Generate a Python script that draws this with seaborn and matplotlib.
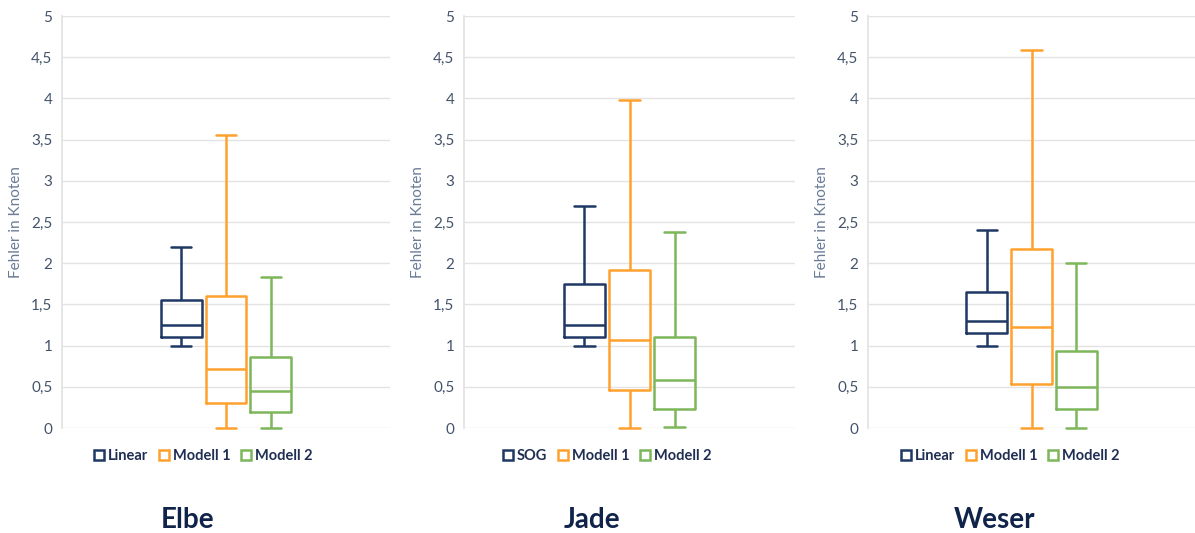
import pandas as pd
import matplotlib.pyplot as plt
import seaborn as sns
from matplotlib.lines import Line2D
from matplotlib.ticker import FuncFormatter

sns.set_theme(style="white")
plt.rcParams['font.family'] = ['Lato', 'DejaVu Sans']

# Five-number summaries (min, Q1, median, Q3, max)
rivers = ["Elbe", "Jade", "Weser"]
first_names = ["Linear", "SOG", "Linear"]
baseline = [[1.00, 1.10, 1.25, 1.55, 2.20],
            [1.00, 1.10, 1.25, 1.75, 2.70],
            [1.00, 1.15, 1.30, 1.65, 2.40]]
modell1 = [[0.00, 0.30, 0.71, 1.60, 3.55],
           [0.00, 0.46, 1.07, 1.92, 3.98],
           [0.00, 0.53, 1.22, 2.17, 4.59]]
modell2 = [[0.00, 0.20, 0.45, 0.86, 1.83],
           [0.01, 0.23, 0.58, 1.10, 2.38],
           [0.00, 0.235, 0.50, 0.94, 2.00]]

colors = ["#1F3864", "#FFA12F", "#7DB75A"]
label_color = "#44546A"
navy = "#1F2E52"

fig = plt.figure(figsize=(11.95, 5.33), dpi=100)
lefts = [62, 464, 868]
widths = [328, 331, 327]
title_x = [188, 592, 995]

for i, river in enumerate(rivers):
    names = [first_names[i], "Modell 1", "Modell 2"]
    rows = []
    for name, stats in zip(names, [baseline[i], modell1[i], modell2[i]]):
        for v in stats:
            rows.append({"group": river, "series": name, "value": v})
    df = pd.DataFrame(rows)

    ax = fig.add_axes([lefts[i] / 1195, 1 - 428 / 533, widths[i] / 1195, 412 / 533])
    sns.boxplot(data=df, x="group", y="value", hue="series", hue_order=names,
                palette=colors, fill=False, whis=(0, 100), width=0.41, gap=0.09,
                linewidth=1.8, legend=False, ax=ax)
    for artist in ax.lines + ax.patches:
        artist.set_clip_on(False)
    ax.set_xlim(-0.5, 0.5)
    ax.set_ylim(0, 5)
    ax.set_yticks([0, 0.5, 1, 1.5, 2, 2.5, 3, 3.5, 4, 4.5, 5])
    ax.yaxis.set_major_formatter(FuncFormatter(lambda v, p: f"{v:g}".replace(".", ",")))
    ax.set_xticks([])
    ax.set_xlabel("")
    ax.grid(axis="y", color="#E3E3E3", linewidth=1)
    ax.set_axisbelow(True)
    for s in ["top", "right", "bottom"]:
        ax.spines[s].set_visible(False)
    ax.spines["left"].set_color("#E3E3E3")
    ax.tick_params(axis="y", length=0, pad=7, labelsize=11, labelcolor=label_color)
    ax.set_ylabel("Fehler in Knoten", fontsize=11, color="#6A7B96")
    ax.yaxis.set_label_coords(-39 / widths[i], 0.5)

    handles = [Line2D([], [], marker="s", linestyle="none", markersize=7,
                      markerfacecolor="white", markeredgecolor=c, markeredgewidth=1.8)
               for c in colors]
    leg_x = (title_x[i] + 14 - lefts[i]) / widths[i]
    leg = ax.legend(handles, names, ncol=3, frameon=False, loc="center",
                    bbox_to_anchor=(leg_x, -0.068), handletextpad=0.1,
                    columnspacing=0.6, handlelength=1.0,
                    prop={"weight": "bold", "size": 10.5})
    for t in leg.get_texts():
        t.set_color(navy)

    fig.text(title_x[i] / 1195, 1 - 520 / 533, river, ha="center", va="center",
             fontsize=20, fontweight="bold", color="#10244A")

fig.savefig("out.png", dpi=100)
